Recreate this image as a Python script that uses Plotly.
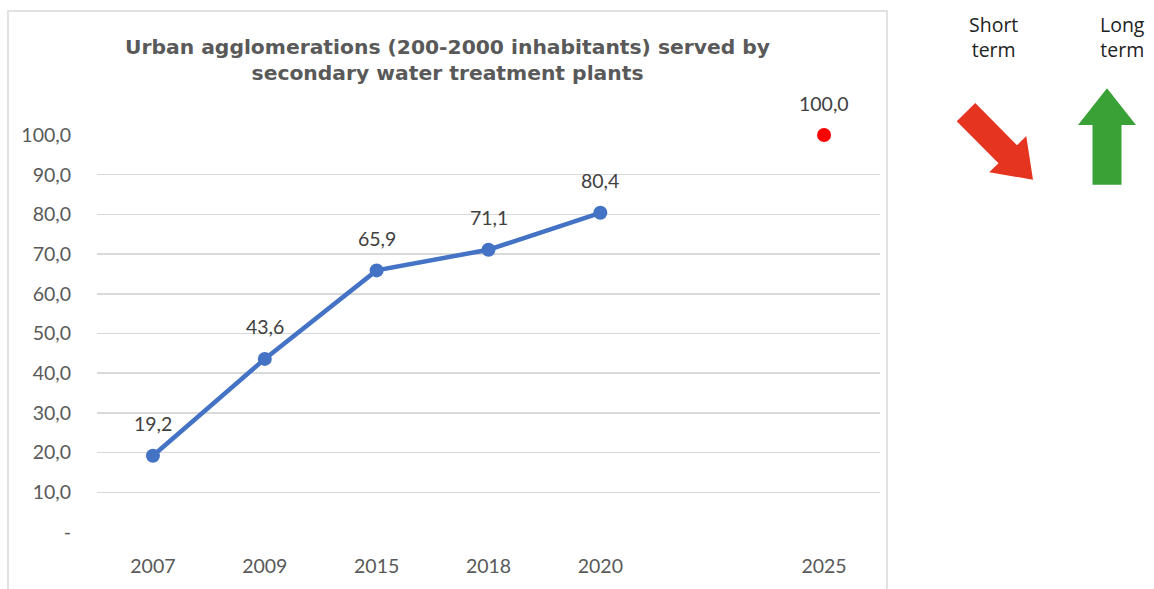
import plotly.graph_objects as go
import math

# ---- data ----
categories = ["2007", "2009", "2015", "2018", "2020", "", "2025"]
series_years = ["2007", "2009", "2015", "2018", "2020"]
series_values = [19.2, 43.6, 65.9, 71.1, 80.4]
target_years = ["2025"]
target_values = [100.0]
y_ticks = [0, 10, 20, 30, 40, 50, 60, 70, 80, 90, 100]

def fmt(v):
    return f"{v:.1f}".replace(".", ",")

y_ticktext = ["-" if v == 0 else fmt(v) for v in y_ticks]
pos = {c: i for i, c in enumerate(categories)}
xs = [pos[c] for c in series_years]
xt = [pos[c] for c in target_years]

W, H = 1154, 589
L, R, T, B = 97, 880, 135, 535

def px2paper(x, y):
    return ((x - L) / (R - L), (B - y) / (B - T))

def arrow_path(tail, tip, shaft_w, head_w, head_len):
    dx, dy = tip[0] - tail[0], tip[1] - tail[1]
    n = math.hypot(dx, dy)
    ux, uy = dx / n, dy / n
    px_, py_ = -uy, ux
    bx, by = tip[0] - ux * head_len, tip[1] - uy * head_len
    pts = [
        (tail[0] + px_ * shaft_w / 2, tail[1] + py_ * shaft_w / 2),
        (bx + px_ * shaft_w / 2, by + py_ * shaft_w / 2),
        (bx + px_ * head_w / 2, by + py_ * head_w / 2),
        tip,
        (bx - px_ * head_w / 2, by - py_ * head_w / 2),
        (bx - px_ * shaft_w / 2, by - py_ * shaft_w / 2),
        (tail[0] - px_ * shaft_w / 2, tail[1] - py_ * shaft_w / 2),
    ]
    p = [px2paper(*q) for q in pts]
    return "M " + " L ".join(f"{a:.5f},{b:.5f}" for a, b in p) + " Z"

fig = go.Figure()
fig.add_trace(go.Scatter(
    x=xs, y=series_values, mode="lines+markers",
    line=dict(color="#4472c4", width=4.5),
    marker=dict(color="#4472c4", size=14),
    cliponaxis=False, hoverinfo="skip",
))
fig.add_trace(go.Scatter(
    x=xt, y=target_values, mode="markers",
    marker=dict(color="#ff0000", size=14),
    cliponaxis=False, hoverinfo="skip",
))

annotations = []
for x, v in list(zip(xs, series_values)) + list(zip(xt, target_values)):
    annotations.append(dict(
        x=x, y=v, xref="x", yref="y", text=fmt(v), showarrow=False,
        yshift=32, font=dict(family="Lato, Carlito, sans-serif", size=19.5, color="#404040"),
    ))

# title
t1x, _ = px2paper(447, 0)
annotations.append(dict(
    x=t1x, y=px2paper(0, 59)[1], xref="paper", yref="paper",
    text="<b>Urban agglomerations (200-2000 inhabitants) served by<br>secondary water treatment plants</b>",
    showarrow=False, xanchor="center", yanchor="middle",
    font=dict(family="DejaVu Sans, sans-serif", size=20.3, color="#595959"),
))
for label, cx in [("Short<br>term", 994), ("Long<br>term", 1122)]:
    ax_, ay_ = px2paper(cx, 36)
    annotations.append(dict(
        x=ax_, y=ay_, xref="paper", yref="paper", text=label, showarrow=False,
        xanchor="center", yanchor="middle", align="center",
        font=dict(family="Open Sans, sans-serif", size=19.5, color="#222222"),
    ))

shapes = []
bx0, by0 = px2paper(8, 10)
bx1, by1 = px2paper(887, 600)
shapes.append(dict(type="rect", xref="paper", yref="paper", x0=bx0, y0=by1, x1=bx1, y1=by0,
                   line=dict(color="#d9d9d9", width=1.5), fillcolor="rgba(0,0,0,0)", layer="below"))
shapes.append(dict(type="path", xref="paper", yref="paper",
                   path=arrow_path((966, 112), (1033, 180), 26, 52, 36),
                   fillcolor="#e5341f", line=dict(width=0)))
shapes.append(dict(type="path", xref="paper", yref="paper",
                   path=arrow_path((1107, 185), (1107, 88), 29, 58, 37),
                   fillcolor="#3aa136", line=dict(width=0)))

fig.update_layout(
    width=W, height=H,
    margin=dict(l=L, r=W - R, t=T, b=H - B),
    plot_bgcolor="white", paper_bgcolor="white",
    showlegend=False,
    annotations=annotations, shapes=shapes,
    xaxis=dict(
        range=[-0.5, len(categories) - 0.5],
        tickvals=[i for i, c in enumerate(categories) if c],
        ticktext=[c for c in categories if c],
        showgrid=False, zeroline=False, showline=False, ticks="",
        tickfont=dict(family="Lato, Carlito, sans-serif", size=19.5, color="#595959"),
        ticklabelstandoff=20,
    ),
    yaxis=dict(
        range=[0, 100], tickvals=y_ticks, ticktext=y_ticktext,
        showgrid=True, gridcolor="#d9d9d9", gridwidth=1.5,
        zeroline=False, showline=False, ticks="",
        tickfont=dict(family="Lato, Carlito, sans-serif", size=19.5, color="#595959"),
        ticklabelstandoff=25,
    ),
)
fig.write_html("out.html", config={"displayModeBar": False, "staticPlot": True})

with open("out.html", "r", encoding="utf-8") as f:
    html = f.read()
html = html.replace("<body>", '<body style="margin:0;padding:0;overflow:hidden">', 1)
with open("out.html", "w", encoding="utf-8") as f:
    f.write(html)
